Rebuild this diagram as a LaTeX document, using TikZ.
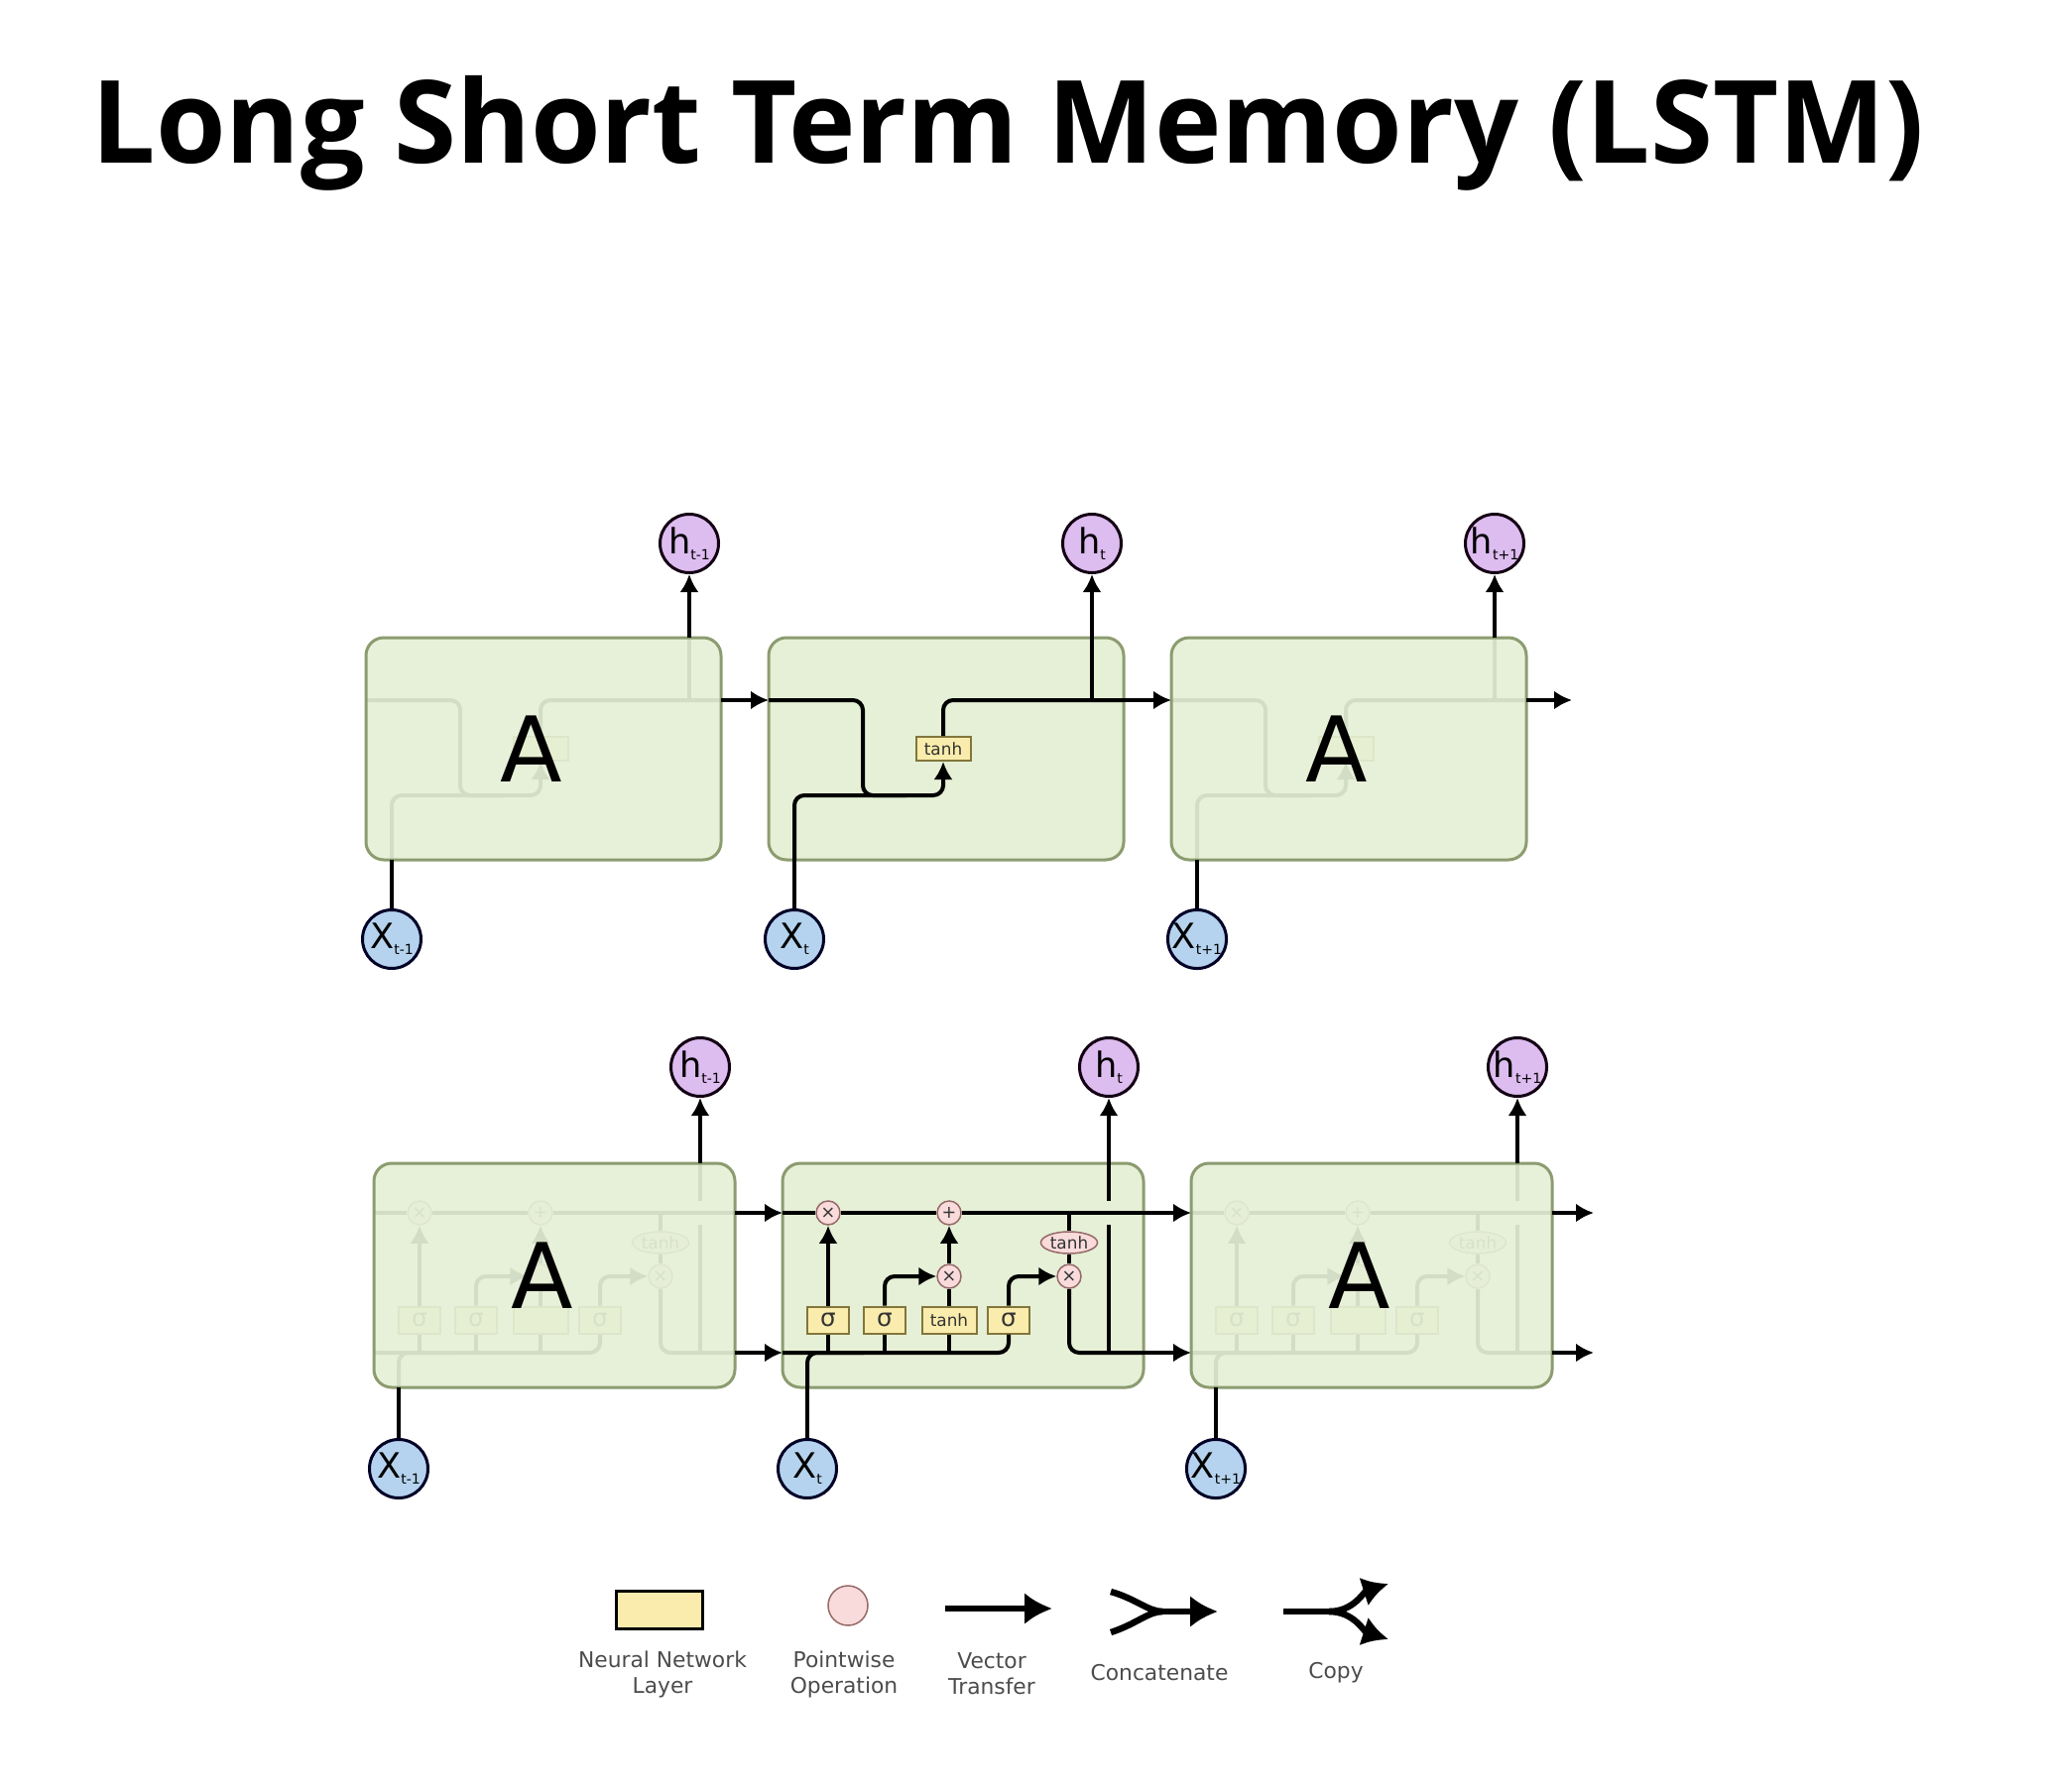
\documentclass[tikz,border=0pt]{standalone}
\usepackage{fontspec}
\setmainfont{DejaVu Sans}
\newfontfamily\titlefont{Open Sans}
\usetikzlibrary{arrows.meta,positioning,shapes.geometric}

\definecolor{cellgreen}{RGB}{229,240,214}
\definecolor{cellborder}{RGB}{140,156,112}
\definecolor{hpurple}{RGB}{221,188,240}
\definecolor{xblue}{RGB}{181,211,238}
\definecolor{layeryellow}{RGB}{250,236,172}
\definecolor{layerborder}{RGB}{130,118,60}
\definecolor{oppink}{RGB}{249,219,219}
\definecolor{opborder}{RGB}{150,105,105}

\newcommand{\seqlabel}[2]{#1\raisebox{-0.3ex}{\fontsize{4pt}{4pt}\selectfont #2}}

\tikzset{
  wire/.style={line width=0.4mm},
  bigwire/.style={line width=0.65mm},
  cellbox/.style={draw=cellborder,fill=cellgreen,line width=0.3mm,rounded corners=1.8mm,font=\fontsize{26pt}{26pt}\selectfont},
  rnncell/.style={minimum width=35.8mm,minimum height=22.4mm},
  lstmcell/.style={minimum width=36.4mm,minimum height=22.6mm},
  ghost/.style={fill opacity=0.92,text opacity=1},
  hnode/.style={circle,draw=black!85!violet,fill=hpurple,line width=0.3mm,minimum size=5.9mm,inner sep=0pt,font=\fontsize{10pt}{10pt}\selectfont},
  xnode/.style={circle,draw=black!85!blue,fill=xblue,line width=0.3mm,minimum size=5.9mm,inner sep=0pt,font=\fontsize{10pt}{10pt}\selectfont},
  layer/.style={draw=layerborder,fill=layeryellow,line width=0.2mm,minimum width=4.2mm,minimum height=2.7mm,inner sep=0pt,text=black!80,font=\fontsize{4.8pt}{4.8pt}\selectfont},
  sigma/.style={layer,font=\fontsize{7pt}{7pt}\selectfont},
  op/.style={circle,draw=opborder,fill=oppink,line width=0.15mm,minimum size=2.4mm,inner sep=0pt,text=black!80,font=\fontsize{5pt}{5pt}\selectfont},
  opel/.style={ellipse,draw=opborder,fill=oppink,line width=0.15mm,minimum width=5.7mm,minimum height=2.2mm,inner sep=0pt,text=black!80,font=\fontsize{4.8pt}{4.8pt}\selectfont},
  legendtext/.style={align=center,text=black!70,font=\fontsize{6.2pt}{7.4pt}\selectfont}
}

% simple recurrent cell, drawn round (0,0); #2 = text of its layer
\newcommand{\rnnwiring}[2]{%
  \coordinate (rin#1) at (-179,-49);
  \coordinate (rout#1) at (179,-49);
  \coordinate (xin#1) at (-153,112);
  \coordinate (hup#1) at (147,-112);
  \node[layer,minimum width=5.5mm,minimum height=2.4mm] (tanh#1) at (-3,0) {#2};
  \draw[wire,rounded corners=1mm] (rin#1) -- (-84,-49) -- (-84,47) -- (-40,47);
  \draw[wire,->,rounded corners=1mm] (xin#1) -- (-153,47) -- (-3,47) -- (tanh#1.south);
  \draw[wire,rounded corners=1mm] (tanh#1.north) -- (-3,-49) -- (rout#1);
  \draw[wire] (147,-49) -- (hup#1);
}

% LSTM cell, drawn round (0,0); #2, #3 = texts of the parts under the A
\newcommand{\lstmwiring}[3]{%
  \coordinate (cin#1) at (-182,-63);
  \coordinate (cout#1) at (182,-63);
  \coordinate (hin#1) at (-182,78);
  \coordinate (hout#1) at (182,78);
  \coordinate (xin#1) at (-157,113);
  \coordinate (hup#1) at (147,-113);
  \node[op] (forget#1) at (-136,-63) {×};
  \node[op] (add#1) at (-14,-63) {+};
  \node[sigma] (sf#1) at (-136,45) {σ};
  \node[sigma] (si#1) at (-79,45) {σ};
  \node[layer,minimum width=5.5mm] (tc#1) at (-14,45) {#2};
  \node[sigma] (so#1) at (46,45) {σ};
  \node[op] (mi#1) at (-14,1) {#3};
  \node[op] (mo#1) at (107,1) {×};
  \node[opel] (th#1) at (107,-33) {tanh};
  \draw[wire] (cin#1) -- (forget#1) -- (add#1) -- (cout#1);
  \draw[wire,rounded corners=1mm] (hin#1) -- (46,78) -- (so#1.south);
  \draw[wire,rounded corners=1mm] (xin#1) -- (-157,78) -- (-100,78);
  \draw[wire] (-136,78) -- (sf#1.south);
  \draw[wire] (-79,78) -- (si#1.south);
  \draw[wire] (-14,78) -- (tc#1.south);
  \draw[wire,->] (sf#1) -- (forget#1);
  \draw[wire,->,rounded corners=1mm] (si#1.north) |- (mi#1);
  \draw[wire] (tc#1) -- (mi#1);
  \draw[wire,->] (mi#1) -- (add#1);
  \draw[wire,->,rounded corners=1mm] (so#1.north) |- (mo#1);
  \draw[wire] (107,-63) -- (th#1);
  \draw[wire] (th#1) -- (mo#1);
  \draw[wire,rounded corners=1mm] (mo#1.south) -- (107,78) -- (hout#1);
  \draw[wire] (147,78) -- (147,-51);
  \draw[wire] (147,-75) -- (hup#1);
}

\begin{document}
\begin{tikzpicture}[x=0.1mm,y=-0.1mm,>={Latex[length=1.8mm,width=1.9mm]}]
  \fill[white] (0,0) rectangle (2066,1806);
  \useasboundingbox (0,0) rectangle (2066,1806);

  \node[anchor=base west,inner sep=0pt,font=\titlefont\bfseries\fontsize{33pt}{33pt}\selectfont] (title) at (92,165) {\scalebox{0.985}[1]{Long Short Term Memory (LSTM)}};

  % plain RNN, unrolled
  \begin{scope}[shift={(548,755)}] \rnnwiring{T1}{} \end{scope}
  \node[cellbox,rnncell,ghost] (cellT1) at (548,755) {A\hspace*{2.4mm}};
  \node[cellbox,rnncell] (cellT2) at (954,755) {};
  \begin{scope}[shift={(954,755)}] \rnnwiring{T2}{tanh} \end{scope}
  \begin{scope}[shift={(1360,755)}] \rnnwiring{T3}{} \end{scope}
  \node[cellbox,rnncell,ghost] (cellT3) at (1360,755) {A\hspace*{2.4mm}};

  \node[hnode] (hT1) at (695,548) {\seqlabel{h}{t-1}};
  \node[hnode] (hT2) at (1101,548) {\seqlabel{h}{t}};
  \node[hnode] (hT3) at (1507,548) {\seqlabel{h}{t+1}};
  \node[xnode] (xT1) at (395,947) {\seqlabel{X}{t-1}};
  \node[xnode] (xT2) at (801,947) {\seqlabel{X}{t}};
  \node[xnode] (xT3) at (1207,947) {\seqlabel{X}{t+1}};

  \draw[wire] (xT1) -- (xinT1); \draw[wire] (xT2) -- (xinT2); \draw[wire] (xT3) -- (xinT3);
  \draw[wire,->] (hupT1) -- (hT1); \draw[wire,->] (hupT2) -- (hT2); \draw[wire,->] (hupT3) -- (hT3);
  \coordinate (rendT) at (1585,706);
  \draw[wire,->] (routT1) -- (rinT2); \draw[wire,->] (routT2) -- (rinT3); \draw[wire,->] (routT3) -- (rendT);

  % LSTM, unrolled
  \begin{scope}[shift={(559,1286)}] \lstmwiring{B1}{}{} \end{scope}
  \node[cellbox,lstmcell,ghost] (cellB1) at (559,1286) {A\hspace*{2.4mm}};
  \node[cellbox,lstmcell] (cellB2) at (971,1286) {};
  \begin{scope}[shift={(971,1286)}] \lstmwiring{B2}{tanh}{×} \end{scope}
  \begin{scope}[shift={(1383,1286)}] \lstmwiring{B3}{}{} \end{scope}
  \node[cellbox,lstmcell,ghost] (cellB3) at (1383,1286) {A\hspace*{2.4mm}};

  \node[hnode] (hB1) at (706,1076) {\seqlabel{h}{t-1}};
  \node[hnode] (hB2) at (1118,1076) {\seqlabel{h}{t}};
  \node[hnode] (hB3) at (1530,1076) {\seqlabel{h}{t+1}};
  \node[xnode] (xB1) at (402,1481) {\seqlabel{X}{t-1}};
  \node[xnode] (xB2) at (814,1481) {\seqlabel{X}{t}};
  \node[xnode] (xB3) at (1226,1481) {\seqlabel{X}{t+1}};

  \draw[wire] (xB1) -- (xinB1); \draw[wire] (xB2) -- (xinB2); \draw[wire] (xB3) -- (xinB3);
  \draw[wire,->] (hupB1) -- (hB1); \draw[wire,->] (hupB2) -- (hB2); \draw[wire,->] (hupB3) -- (hB3);
  \coordinate (cendB) at (1607,1223);
  \coordinate (hendB) at (1607,1364);
  \draw[wire,->] (coutB1) -- (cinB2); \draw[wire,->] (coutB2) -- (cinB3); \draw[wire,->] (coutB3) -- (cendB);
  \draw[wire,->] (houtB1) -- (hinB2); \draw[wire,->] (houtB2) -- (hinB3); \draw[wire,->] (houtB3) -- (hendB);

  % legend
  \node[layer,draw=black,line width=0.3mm,minimum width=8.7mm,minimum height=3.8mm] (lgLayer) at (665,1623) {};
  \node[op,minimum size=4mm] (lgOp) at (855,1619) {};
  \coordinate (vtA) at (953,1622); \coordinate (vtB) at (1061,1622);
  \draw[bigwire,-{Latex[length=2.8mm,width=3.2mm]}] (vtA) -- (vtB);
  \coordinate (ccA) at (1120,1605); \coordinate (ccB) at (1120,1646);
  \coordinate (ccM) at (1172,1625); \coordinate (ccE) at (1228,1625);
  \draw[bigwire] (ccA) .. controls (1145,1612) and (1158,1625) .. (ccM);
  \draw[bigwire] (ccB) .. controls (1145,1638) and (1158,1625) .. (ccM);
  \draw[bigwire,-{Latex[length=2.8mm,width=3.2mm]}] (ccM) -- (ccE);
  \coordinate (cpA) at (1294,1625); \coordinate (cpM) at (1340,1625);
  \coordinate (cpU) at (1400,1597); \coordinate (cpD) at (1400,1653);
  \draw[bigwire] (cpA) -- (cpM);
  \draw[bigwire,-{Latex[length=2.6mm,width=3mm]}] (cpM) .. controls (1365,1625) and (1375,1605) .. (cpU);
  \draw[bigwire,-{Latex[length=2.6mm,width=3mm]}] (cpM) .. controls (1365,1625) and (1375,1645) .. (cpD);

  \node[legendtext] (lgLayerText) at (668,1688) {Neural Network\\Layer};
  \node[legendtext] (lgOpText) at (851,1688) {Pointwise\\Operation};
  \node[legendtext] (lgVtText) at (1000,1688) {Vector\\Transfer};
  \node[legendtext] (lgCcText) at (1169,1687) {Concatenate};
  \node[legendtext] (lgCpText) at (1347,1687) {Copy};
\end{tikzpicture}
\end{document}
